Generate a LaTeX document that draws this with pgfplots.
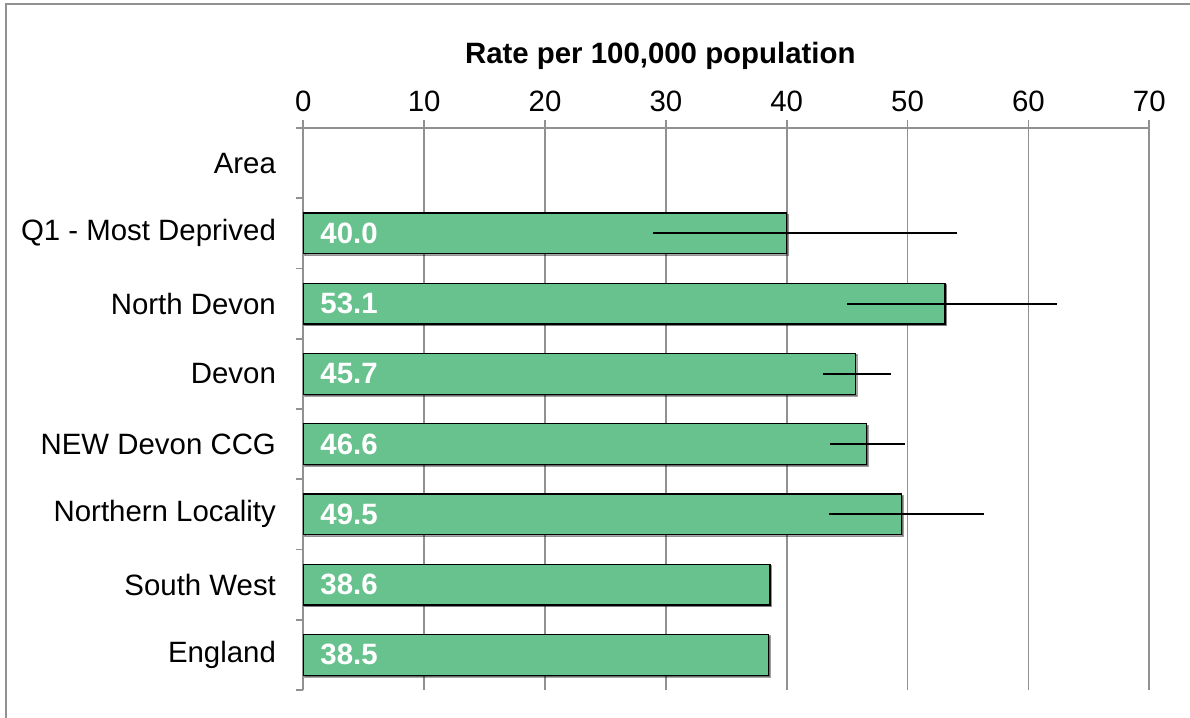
\documentclass[border=0pt]{standalone}
\usepackage{fontspec}
\setmainfont{Liberation Sans}
\usepackage{pgfplots}
\pgfplotsset{compat=1.18}
\definecolor{barg}{RGB}{103,194,142}
\definecolor{axg}{RGB}{145,145,145}
\newcommand{\fs}{\fontsize{14.7}{17}\selectfont}
\begin{document}
\begin{tikzpicture}
\fs
\path[use as bounding box] (0,0) rectangle (595pt,359pt);
\draw[axg, line width=1pt] (3.2pt,-2pt) -- (3.2pt,356.8pt) -- (597pt,356.8pt);
\begin{axis}[
  at={(151.65pt,14pt)}, anchor=south west,
  width=423pt, height=281pt, scale only axis,
  xmin=0, xmax=70, xtick={0,10,...,70},
  ymin=-0.5, ymax=7.5, y dir=reverse,
  ytick={0,...,7},
  yticklabels={Area, Q1 - Most Deprived, North Devon, Devon, NEW Devon CCG, Northern Locality, South West, England},
  minor ytick={-0.5,0.5,...,7.5},
  major y tick style={draw=none},
  minor y tick style={axg, line width=0.9pt},
  major x tick style={axg, line width=0.9pt},
  major tick length=4pt, minor tick length=3.5pt,
  tick align=outside,
  axis x line*=top, axis y line*=left,
  axis line style={axg, line width=0.9pt, -},
  xmajorgrids, major grid style={axg, line width=0.9pt},
  /pgf/number format/assume math mode=true,
  xticklabel style={font=\fs, yshift=-1pt},
  yticklabel style={font=\fs, xshift=-4.6pt},
  xlabel={\bfseries Rate per 100,000 population},
  xlabel style={font=\fs, at={(axis description cs:0.422,1)}, anchor=base, yshift=32.5pt},
  clip=false,
]
\addplot[xbar, bar width=0.58, fill=barg, draw=black, line width=0.7pt,
  preaction={fill=black, opacity=0.35, transform canvas={xshift=0.8pt,yshift=-0.8pt}},
  error bars/.cd, x dir=both, x explicit, error mark=none,
  error bar style={black, line width=1.1pt, opacity=1}]
coordinates {
 (40.0,1) += (14.1,0) -= (11.1,0)
 (53.1,2) += (9.3,0) -= (8.1,0)
 (45.7,3) += (2.9,0) -= (2.7,0)
 (46.6,4) += (3.2,0) -= (3.0,0)
 (49.5,5) += (6.8,0) -= (6.0,0)
 (38.6,6) += (0,0) -= (0,0)
 (38.5,7) += (0,0) -= (0,0)
};
\addplot[only marks, mark=none, nodes near coords, point meta=explicit symbolic,
  nodes near coords style={anchor=west, text=white, font=\fs\bfseries, xshift=3.5pt}]
coordinates {
 (0,1) [40.0]
 (0,2) [53.1]
 (0,3) [45.7]
 (0,4) [46.6]
 (0,5) [49.5]
 (0,6) [38.6]
 (0,7) [38.5]
};
\end{axis}
\end{tikzpicture}
\end{document}
